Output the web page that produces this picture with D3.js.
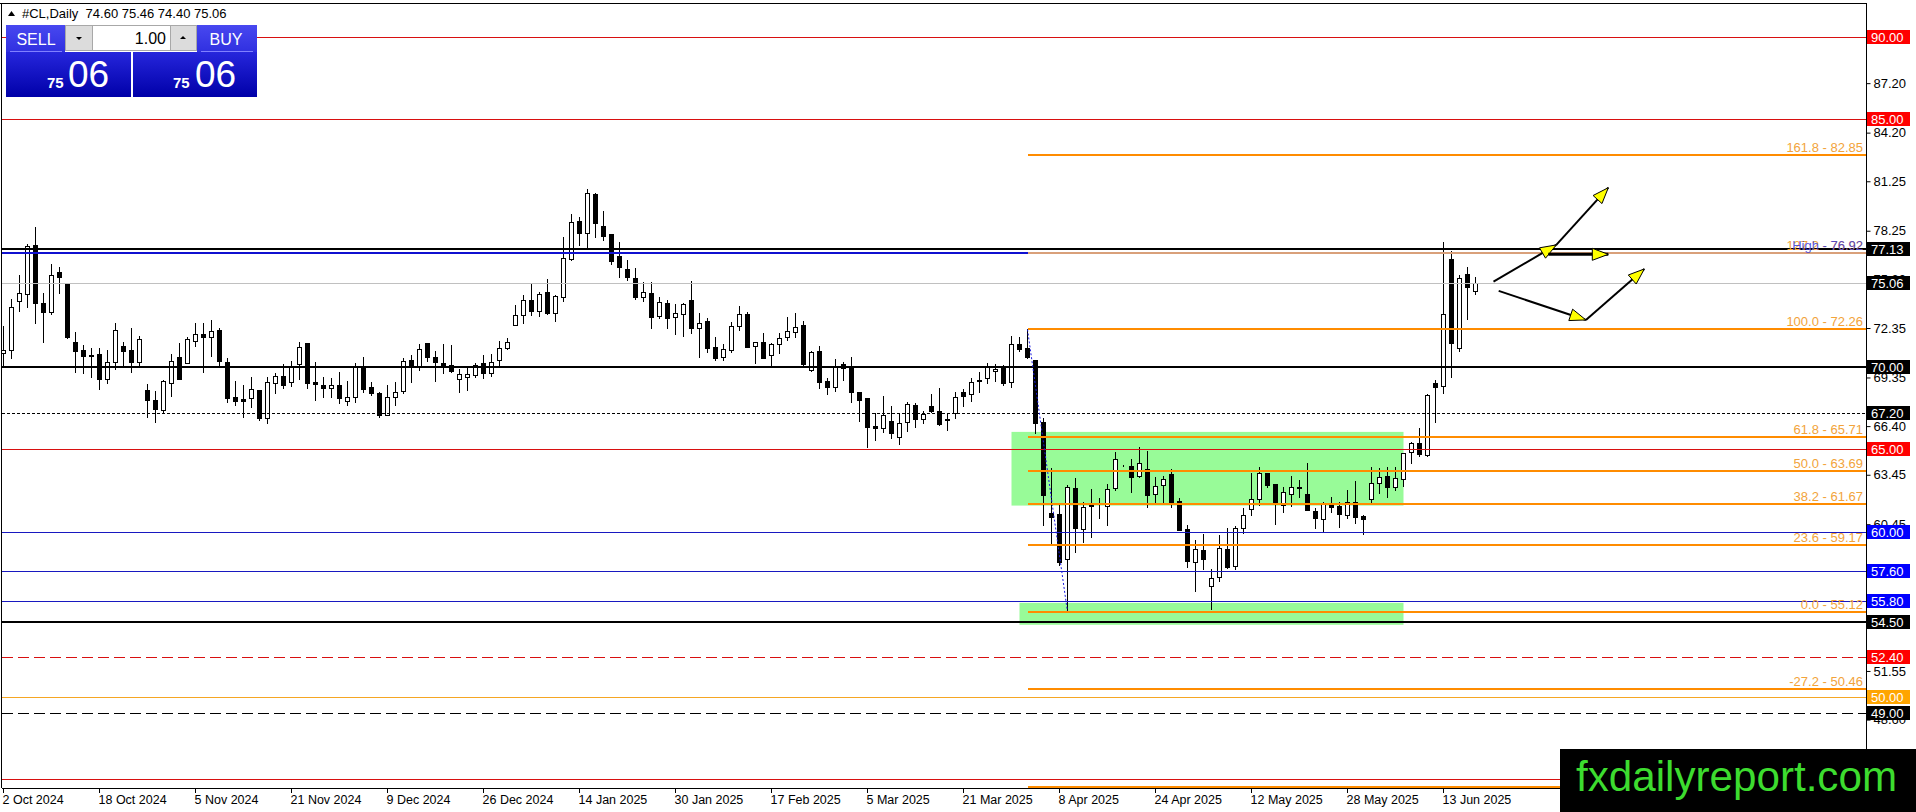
<!DOCTYPE html>
<html>
<head>
<meta charset="utf-8">
<script src="https://cdn.jsdelivr.net/npm/d3@7"></script>
<style>
  html, body { margin: 0; padding: 0; background: #fff; }
  svg { display: block; font-family: "Liberation Sans", Arial, sans-serif; }
</style>
</head>
<body>
<div id="chart"></div>
<script>
// #CL daily candles, 2 Oct 2024 .. 19 Jun 2025
const opens = [
  70.82, 71.02, 73.99, 74.39, 77.38, 73.85, 73.34, 75.73, 75.10, 71.48,
  71.02, 70.69, 70.76, 69.26, 70.31, 71.26, 71.02, 70.31, 68.59, 67.99,
  67.38, 69.00, 70.57, 70.25, 71.58, 71.96, 71.83, 72.23, 70.27, 68.15,
  68.05, 68.13, 68.59, 66.88, 69.00, 69.44, 69.06, 70.15, 71.42, 69.06,
  68.90, 68.73, 68.90, 67.95, 68.15, 70.01, 68.76, 68.40, 67.08, 68.19,
  68.50, 70.42, 70.05, 71.43, 70.58, 70.21, 70.11, 69.24, 69.36, 69.47,
  70.21, 69.61, 70.42, 71.12, 72.54, 73.14, 74.05, 73.41, 74.52, 73.29,
  74.26, 76.52, 78.84, 78.10, 80.48, 78.54, 78.04, 76.72, 75.91, 75.37,
  74.26, 74.50, 73.08, 73.89, 73.00, 73.18, 74.05, 72.34, 72.78, 71.18,
  70.58, 71.02, 72.48, 73.20, 71.26, 71.48, 70.71, 71.38, 71.79, 72.09,
  72.53, 69.80, 70.96, 69.14, 68.79, 70.15, 70.01, 68.49, 68.09, 66.41,
  66.27, 66.71, 65.72, 66.63, 67.68, 66.81, 67.62, 67.32, 66.81, 67.18,
  68.45, 68.33, 69.14, 69.30, 69.74, 70.01, 69.10, 71.36, 71.12, 70.41,
  66.63, 61.11, 61.05, 58.32, 62.63, 60.15, 61.62, 61.56, 61.56, 62.63,
  64.01, 64.01, 63.40, 63.78, 62.27, 62.83, 63.50, 61.88, 60.15, 58.13,
  58.89, 56.73, 57.24, 58.93, 57.92, 60.21, 61.36, 61.97, 63.58, 62.88,
  61.62, 62.29, 62.69, 62.27, 61.28, 60.75, 61.62, 61.56, 61.01, 61.82,
  60.92, 61.96, 62.94, 63.38, 62.73, 63.20, 64.82, 65.40, 64.65, 68.99,
  68.86, 76.52, 71.12, 75.63, 74.60
];
const highs = [
  72.47, 74.09, 75.57, 77.45, 78.46, 74.45, 76.23, 76.03, 75.10, 72.09,
  71.32, 71.16, 71.16, 71.02, 72.68, 71.52, 72.37, 71.87, 68.96, 68.53,
  69.20, 70.78, 71.42, 71.83, 72.63, 72.63, 72.84, 72.33, 70.51, 69.12,
  68.90, 69.36, 68.59, 69.36, 69.64, 70.15, 70.37, 71.48, 71.42, 70.27,
  69.40, 69.30, 69.66, 69.14, 70.25, 70.57, 69.10, 68.44, 68.90, 69.10,
  70.52, 70.72, 71.39, 71.43, 70.96, 71.39, 71.33, 69.85, 69.91, 70.21,
  70.72, 70.78, 71.59, 71.73, 73.75, 74.36, 75.02, 74.56, 75.33, 74.36,
  77.85, 79.27, 79.11, 80.76, 80.56, 79.45, 78.04, 77.59, 76.48, 75.97,
  75.17, 75.17, 74.26, 74.05, 73.81, 73.89, 75.23, 73.29, 72.94, 71.83,
  71.39, 72.74, 73.69, 73.30, 71.48, 72.03, 71.46, 72.07, 73.04, 73.28,
  72.80, 70.98, 71.26, 69.34, 70.47, 70.31, 70.61, 68.49, 68.09, 67.18,
  68.23, 67.64, 67.22, 67.88, 67.82, 67.34, 68.35, 68.73, 67.22, 68.49,
  68.63, 69.34, 69.70, 70.25, 70.15, 70.11, 71.87, 71.83, 72.26, 70.41,
  66.87, 63.84, 61.62, 62.83, 63.28, 61.82, 62.59, 62.02, 62.89, 64.85,
  64.05, 64.41, 65.16, 64.92, 63.34, 63.40, 63.78, 62.03, 60.41, 59.50,
  59.86, 57.72, 59.80, 60.21, 60.35, 61.42, 63.54, 63.89, 63.58, 62.88,
  62.73, 63.38, 63.14, 64.15, 61.42, 61.82, 62.13, 61.82, 62.53, 63.08,
  61.01, 63.89, 63.84, 63.95, 63.95, 64.76, 65.46, 66.27, 68.35, 69.20,
  77.59, 77.04, 75.57, 76.07, 75.46
];
const lows = [
  70.01, 70.51, 73.40, 73.60, 72.67, 71.52, 73.20, 74.49, 71.73, 69.70,
  69.64, 69.40, 68.67, 69.04, 69.85, 70.11, 69.70, 70.01, 66.94, 66.67,
  67.28, 68.23, 69.28, 70.25, 71.26, 69.70, 70.65, 70.01, 67.89, 67.68,
  66.94, 67.54, 66.77, 66.57, 68.43, 68.69, 68.84, 69.24, 68.69, 67.99,
  68.15, 68.19, 67.82, 67.68, 67.89, 68.49, 68.29, 66.98, 67.08, 67.69,
  68.40, 69.10, 69.81, 70.32, 69.16, 69.61, 69.67, 68.44, 68.56, 69.36,
  69.30, 69.41, 70.11, 71.06, 72.54, 72.68, 73.14, 73.08, 73.21, 72.80,
  74.01, 76.48, 77.39, 77.19, 77.85, 77.69, 76.24, 75.47, 75.27, 74.10,
  74.01, 72.38, 72.94, 72.34, 71.99, 71.87, 72.03, 70.62, 70.92, 70.42,
  70.42, 70.92, 72.24, 71.18, 70.21, 70.51, 70.11, 70.86, 71.62, 71.79,
  70.11, 69.76, 68.69, 68.33, 68.55, 69.20, 67.88, 66.73, 65.16, 65.56,
  66.07, 65.70, 65.30, 66.13, 66.33, 66.61, 67.24, 66.47, 66.17, 66.87,
  67.64, 67.93, 68.45, 69.04, 69.16, 68.89, 68.79, 70.98, 70.51, 65.96,
  60.41, 59.20, 57.98, 55.12, 58.79, 59.40, 59.70, 60.81, 60.41, 62.53,
  63.97, 62.43, 63.34, 61.52, 61.72, 61.72, 61.52, 60.07, 57.88, 56.37,
  57.72, 55.30, 56.98, 57.78, 57.72, 59.90, 61.01, 61.62, 62.69, 60.45,
  61.22, 61.56, 62.13, 61.32, 60.21, 60.01, 61.22, 60.27, 60.81, 60.55,
  59.84, 61.76, 62.37, 62.13, 62.53, 62.77, 64.15, 64.59, 64.59, 66.67,
  68.43, 69.40, 70.98, 72.90, 74.40
];
const closes = [
  71.02, 73.65, 74.45, 77.32, 73.85, 73.34, 75.57, 75.46, 71.79, 70.98,
  70.67, 70.67, 69.28, 70.27, 72.23, 70.98, 70.31, 71.68, 67.99, 67.46,
  69.12, 70.37, 69.28, 71.66, 71.96, 71.83, 72.17, 70.37, 68.13, 67.95,
  67.95, 68.63, 66.88, 69.06, 69.44, 68.90, 70.07, 71.18, 69.00, 68.94,
  68.73, 68.90, 68.13, 68.15, 70.01, 68.67, 68.39, 67.08, 68.15, 68.48,
  70.32, 70.01, 71.06, 70.62, 70.26, 70.09, 69.77, 69.57, 69.57, 70.11,
  69.65, 70.28, 71.12, 71.49, 73.14, 74.05, 73.41, 74.40, 73.29, 74.30,
  76.58, 78.76, 78.10, 80.52, 78.74, 77.95, 76.44, 76.04, 75.43, 74.22,
  74.56, 73.04, 73.95, 72.98, 73.25, 73.81, 72.34, 72.68, 71.12, 70.52,
  71.06, 72.48, 73.18, 71.18, 71.48, 70.55, 71.36, 71.77, 72.17, 72.43,
  70.17, 70.88, 69.06, 68.79, 70.07, 69.91, 68.45, 67.99, 66.37, 66.27,
  67.08, 65.96, 66.57, 67.74, 66.81, 67.14, 67.34, 66.53, 66.75, 68.19,
  68.25, 69.10, 69.20, 70.01, 69.86, 69.00, 71.36, 71.08, 70.61, 66.61,
  62.23, 60.91, 58.18, 62.69, 60.21, 61.48, 61.56, 61.56, 62.57, 64.39,
  64.01, 63.30, 64.15, 62.23, 62.77, 63.18, 61.82, 60.07, 58.19, 58.93,
  58.35, 57.18, 58.99, 57.88, 60.25, 60.98, 61.97, 63.58, 62.84, 61.72,
  62.43, 62.69, 62.63, 61.32, 60.81, 61.68, 61.48, 61.06, 61.82, 60.87,
  60.75, 62.98, 63.34, 62.69, 63.24, 64.76, 65.36, 64.72, 68.29, 68.80,
  73.18, 71.46, 75.37, 74.82, 75.06
];

const dateLabels = [
  "2 Oct 2024", "18 Oct 2024", "5 Nov 2024", "21 Nov 2024", "9 Dec 2024",
  "26 Dec 2024", "14 Jan 2025", "30 Jan 2025", "17 Feb 2025", "5 Mar 2025",
  "21 Mar 2025", "8 Apr 2025", "24 Apr 2025", "12 May 2025", "28 May 2025",
  "13 Jun 2025"
];
const dateLabelBars = [0, 12, 24, 36, 48, 60, 72, 84, 96, 108, 120, 132, 144, 156, 168, 180];

// scale ticks (57.50 and 54.50 sit fully under the level labels, so left out)
const priceTicks = [90.15, 87.20, 84.20, 81.25, 78.25, 75.30, 72.35, 69.35,
                    66.40, 63.45, 60.45, 51.55, 48.60];

// horizontal levels drawn on the chart
const redLevels = [90.00, 85.00, 65.00, 45.00];
const redDashLevels = [52.40];
const blackLevels = [77.13, 70.00, 54.50];
const blackDashLevels = [49.00];
const dottedLevels = [67.20];
const blueLevels = [60.00, 57.60, 55.80];
const orangeLevels = [50.00];
const highLevel = 76.92;

// fibonacci retracement/extension
const fibHighBar = 128, fibLowBar = 133;
const fibHigh = 72.26, fibLow = 55.12;
const fibLevels = [-61.8, -27.2, 0.0, 23.6, 38.2, 50.0, 61.8, 100.0, 127.2, 161.8];

// green zones: [fromBar, toBar, top, bottom]
const zones = [
  [126, 175, 66.05, 61.58],
  [127, 175, 55.68, 54.35]
];

// scenario arrows, each [ [bar, price], [bar, price] ]
const arrows = [
  [[186.25, 75.16], [194.1, 77.39]],
  [[194.1, 77.39], [200.6, 80.86]],
  [[193.1, 76.82], [200.6, 76.82]],
  [[186.9, 74.60], [197.8, 72.84]],
  [[197.8, 72.84], [205.1, 75.93]]
];

const labelRed = [90.00, 85.00, 65.00, 52.40];
const labelBlack = [77.13, 75.06, 70.00, 67.20, 54.50, 49.00];
const labelBlue = [60.00, 57.60, 55.80];
const labelOrange = [50.00];

// ---------------------------------------------------------------
const W = 1916, H = 812;
const plotL = 2, plotT = 3, plotR = 1866, plotB = 788;
const N = closes.length;
const last = N - 1;

const x = d3.scaleLinear().domain([0, 184]).range([3.5, 1475.5]);
const y = d3.scaleLinear().domain([49, 90]).range([713, 37]);
const py = v => Math.round(y(v)) + 0.5;

const svg = d3.select("#chart").append("svg")
  .attr("width", W)
  .attr("height", H);

const defs = svg.append("defs");
defs.append("clipPath").attr("id", "plot")
  .append("rect").attr("x", plotL).attr("y", plotT)
  .attr("width", plotR - plotL).attr("height", plotB - plotT);

const g = svg.append("g").attr("clip-path", "url(#plot)");

// green zones (background)
g.selectAll(".zone").data(zones).enter().append("rect")
  .attr("x", d => x(d[0]))
  .attr("y", d => y(d[2]))
  .attr("width", d => x(d[1]) - x(d[0]))
  .attr("height", d => y(d[3]) - y(d[2]))
  .attr("fill", "#98fb98");

// candles
const bars = d3.range(N);
const cg = g.append("g").attr("shape-rendering", "crispEdges");
cg.selectAll(".wick").data(bars).enter().append("line")
  .attr("x1", i => x(i)).attr("x2", i => x(i))
  .attr("y1", i => Math.round(y(highs[i])))
  .attr("y2", i => Math.round(y(lows[i])) + 1)
  .attr("stroke", "#000").attr("stroke-width", 1);

cg.selectAll(".body").data(bars).enter().append("rect")
  .attr("x", i => x(i) - 2)
  .attr("y", i => py(Math.max(opens[i], closes[i])))
  .attr("width", 4)
  .attr("height", i => py(Math.min(opens[i], closes[i])) - py(Math.max(opens[i], closes[i])))
  .attr("fill", i => closes[i] >= opens[i] ? "#fff" : "#000")
  .attr("stroke", "#000").attr("stroke-width", 1);

// horizontal lines
function hline(values, color, width, dash) {
  g.selectAll(null).data(values).enter().append("line")
    .attr("x1", plotL).attr("x2", plotR)
    .attr("y1", d => width % 2 ? py(d) : Math.round(y(d)))
    .attr("y2", d => width % 2 ? py(d) : Math.round(y(d)))
    .attr("stroke", color)
    .attr("stroke-width", width)
    .attr("stroke-dasharray", dash || null)
    .attr("shape-rendering", "crispEdges");
}
hline([closes[last]], "#c0c0c0", 1);
hline(redLevels, "#d81010", 1);
hline(redDashLevels, "#d81010", 1, "11,5");
hline(blueLevels, "#1818c0", 1);
hline(orangeLevels, "#f5a623", 1);
hline(blackDashLevels, "#000", 1, "11,5");
hline(dottedLevels, "#000", 1, "3,2");
hline([highLevel], "#1010d0", 2);
hline(blackLevels, "#000", 2);

// fibonacci
const fibPrice = l => fibLow + (fibHigh - fibLow) * l / 100;
const fg = g.append("g");
fg.append("line")
  .attr("x1", x(fibHighBar)).attr("y1", y(highs[fibHighBar]))
  .attr("x2", x(fibLowBar)).attr("y2", y(lows[fibLowBar]))
  .attr("stroke", "#1a1ae0").attr("stroke-width", 1)
  .attr("stroke-dasharray", "2,2");
fg.selectAll(".fib").data(fibLevels).enter().append("line")
  .attr("x1", x(fibHighBar)).attr("x2", plotR)
  .attr("y1", d => Math.round(y(fibPrice(d))))
  .attr("y2", d => Math.round(y(fibPrice(d))))
  .attr("stroke", d => d === 127.2 ? "#d9a07a" : "#ff8c00")
  .attr("stroke-width", 2)
  .attr("shape-rendering", "crispEdges");
fg.selectAll(".fibtxt").data(fibLevels).enter().append("text")
  .attr("x", plotR - 3)
  .attr("y", d => y(fibPrice(d)) - 3)
  .attr("text-anchor", "end")
  .attr("font-size", 13)
  .attr("fill", "#f2a33a")
  .text(d => `${d.toFixed(1)} - ${fibPrice(d).toFixed(2)}`);
fg.append("text")
  .attr("x", plotR - 3)
  .attr("y", y(highLevel) - 3)
  .attr("text-anchor", "end")
  .attr("font-size", 13)
  .attr("fill", "#3a3ad8")
  .attr("fill-opacity", 0.85)
  .text(`High - ${highLevel.toFixed(2)}`);

// arrows
const ag = g.append("g");
arrows.forEach(a => {
  const x1 = x(a[0][0]), y1 = y(a[0][1]), x2 = x(a[1][0]), y2 = y(a[1][1]);
  const horiz = a[0][1] === a[1][1];
  ag.append("line")
    .attr("x1", x1).attr("y1", y1).attr("x2", x2).attr("y2", y2)
    .attr("stroke", "#000").attr("stroke-width", horiz ? 3 : 2);
  const ang = Math.atan2(y2 - y1, x2 - x1);
  const len = 16, hw = 6;
  const bx = x2 - len * Math.cos(ang), by = y2 - len * Math.sin(ang);
  const pts = [
    [x2, y2],
    [bx + hw * Math.sin(ang), by - hw * Math.cos(ang)],
    [bx - hw * Math.sin(ang), by + hw * Math.cos(ang)]
  ];
  ag.append("polygon")
    .attr("points", pts.map(p => p.join(",")).join(" "))
    .attr("fill", "#ffff00").attr("stroke", "#000").attr("stroke-width", 1);
});

// frame
const frame = svg.append("g").attr("shape-rendering", "crispEdges");
frame.append("line").attr("x1", 0).attr("x2", plotR).attr("y1", plotT + 0.5).attr("y2", plotT + 0.5).attr("stroke", "#000");
frame.append("line").attr("x1", plotL - 0.5).attr("x2", plotL - 0.5).attr("y1", plotT).attr("y2", plotB).attr("stroke", "#000");
frame.append("line").attr("x1", plotR + 0.5).attr("x2", plotR + 0.5).attr("y1", plotT).attr("y2", plotB + 1).attr("stroke", "#000");
frame.append("line").attr("x1", plotL).attr("x2", plotR + 1).attr("y1", plotB + 0.5).attr("y2", plotB + 0.5).attr("stroke", "#000");

// price axis
const yAxis = d3.axisRight(y)
  .tickValues(priceTicks)
  .tickSize(4)
  .tickPadding(3)
  .tickFormat(d3.format(".2f"));
const ya = svg.append("g")
  .attr("transform", `translate(${plotR + 0.5},0)`)
  .call(yAxis);
ya.select(".domain").remove();
ya.selectAll("text").attr("font-size", 13).attr("font-family", "Liberation Sans, Arial, sans-serif").attr("fill", "#000");
ya.selectAll("line").attr("stroke", "#000");

// price labels on axis
function priceLabels(values, bg) {
  const lg = svg.selectAll(null).data(values).enter().append("g")
    .attr("transform", d => `translate(${plotR + 1},${Math.round(y(d)) - 7})`);
  lg.append("rect").attr("width", 43).attr("height", 14).attr("fill", bg);
  lg.append("text").attr("x", 4).attr("y", 11.5)
    .attr("font-size", 13).attr("fill", "#fff")
    .text(d => d.toFixed(2));
}
priceLabels(labelRed, "#ff0000");
priceLabels(labelBlack, "#000");
priceLabels(labelBlue, "#0000ff");
priceLabels(labelOrange, "#ffa500");

// time axis
const xa = svg.append("g");
xa.selectAll("line").data(dateLabelBars).enter().append("line")
  .attr("x1", d => x(d)).attr("x2", d => x(d))
  .attr("y1", plotB).attr("y2", plotB + 5)
  .attr("stroke", "#000").attr("shape-rendering", "crispEdges");
xa.selectAll("text").data(dateLabels).enter().append("text")
  .attr("x", (d, i) => x(dateLabelBars[i]) - 1)
  .attr("y", plotB + 16)
  .attr("font-size", 12.5)
  .attr("fill", "#000")
  .text(d => d);

// title
svg.append("path").attr("d", "M8,16 L15,16 L11.5,11 Z").attr("fill", "#000");
svg.append("text")
  .attr("x", 22).attr("y", 18)
  .attr("font-size", 13).attr("fill", "#000")
  .attr("xml:space", "preserve")
  .text(`#CL,Daily  ${opens[last].toFixed(2)} ${highs[last].toFixed(2)} ${lows[last].toFixed(2)} ${closes[last].toFixed(2)}`);

// one-click trading panel
const gradTop = defs.append("linearGradient").attr("id", "gTop").attr("x1", 0).attr("x2", 0).attr("y1", 0).attr("y2", 1);
gradTop.append("stop").attr("offset", "0%").attr("stop-color", "#4848f0");
gradTop.append("stop").attr("offset", "100%").attr("stop-color", "#3030e0");
const gradBot = defs.append("linearGradient").attr("id", "gBot").attr("x1", 0).attr("x2", 0).attr("y1", 0).attr("y2", 1);
gradBot.append("stop").attr("offset", "0%").attr("stop-color", "#2626dc");
gradBot.append("stop").attr("offset", "100%").attr("stop-color", "#0000a8");

const p = svg.append("g").attr("shape-rendering", "crispEdges");
p.append("rect").attr("x", 6).attr("y", 25).attr("width", 59).attr("height", 27).attr("fill", "url(#gTop)");
p.append("rect").attr("x", 197).attr("y", 25).attr("width", 60).attr("height", 27).attr("fill", "url(#gTop)");
p.append("rect").attr("x", 6).attr("y", 52).attr("width", 125).attr("height", 45).attr("fill", "url(#gBot)");
p.append("rect").attr("x", 133).attr("y", 52).attr("width", 124).attr("height", 45).attr("fill", "url(#gBot)");
p.append("line").attr("x1", 10).attr("x2", 62).attr("y1", 51.5).attr("y2", 51.5).attr("stroke", "#8080ff");
p.append("line").attr("x1", 201).attr("x2", 253).attr("y1", 51.5).attr("y2", 51.5).attr("stroke", "#8080ff");
p.append("rect").attr("x", 65.5).attr("y", 25.5).attr("width", 27).attr("height", 25).attr("fill", "#dcdcdc").attr("stroke", "#a8a8a8");
p.append("rect").attr("x", 92.5).attr("y", 25.5).attr("width", 78).attr("height", 25).attr("fill", "#fff").attr("stroke", "#a8a8a8");
p.append("rect").attr("x", 170.5).attr("y", 25.5).attr("width", 26).attr("height", 25).attr("fill", "#dcdcdc").attr("stroke", "#a8a8a8");
svg.append("path").attr("d", "M76,37 L82,37 L79,40 Z").attr("fill", "#000");
svg.append("path").attr("d", "M180,39 L186,39 L183,36 Z").attr("fill", "#000");
svg.append("text").attr("x", 166).attr("y", 44).attr("text-anchor", "end")
  .attr("font-size", 16).attr("fill", "#000").text("1.00");
svg.append("text").attr("x", 36).attr("y", 45).attr("text-anchor", "middle")
  .attr("font-size", 16).attr("fill", "#fff").text("SELL");
svg.append("text").attr("x", 226).attr("y", 45).attr("text-anchor", "middle")
  .attr("font-size", 16).attr("fill", "#fff").text("BUY");

const big = closes[last].toFixed(2).split(".");
[[47, 68], [173, 195]].forEach(pos => {
  svg.append("text").attr("x", pos[0]).attr("y", 88)
    .attr("font-size", 15).attr("font-weight", "bold").attr("fill", "#fff").text(big[0]);
  svg.append("text").attr("x", pos[1]).attr("y", 87)
    .attr("font-size", 37).attr("fill", "#fff").text(big[1]);
});

// watermark
svg.append("rect").attr("x", 1560).attr("y", 749).attr("width", 356).attr("height", 63).attr("fill", "#000");
svg.append("text")
  .attr("x", 1576).attr("y", 791)
  .attr("font-size", 42)
  .attr("fill", "#3ddc2f")
  .attr("textLength", 321)
  .attr("lengthAdjust", "spacingAndGlyphs")
  .text("fxdailyreport.com");
</script>
</body>
</html>
